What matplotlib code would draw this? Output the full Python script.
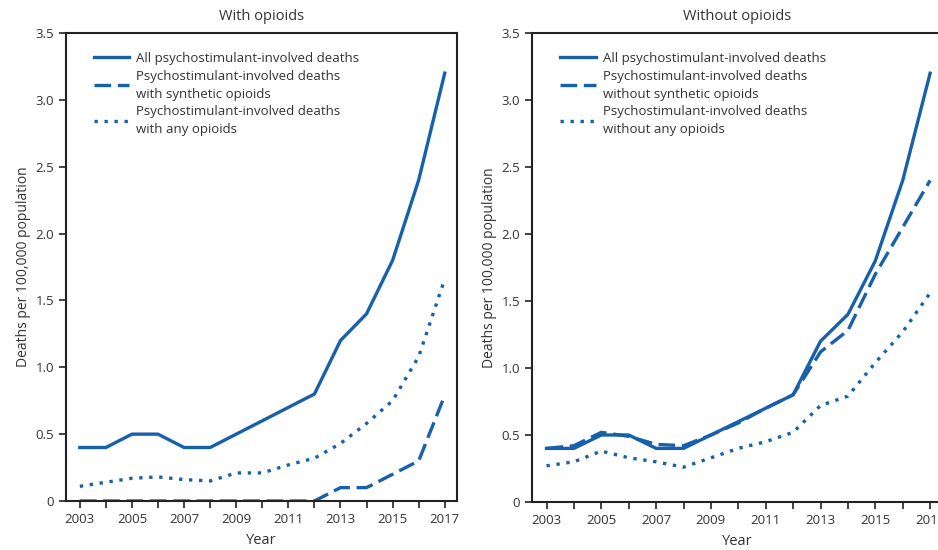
import matplotlib.pyplot as plt
from matplotlib.ticker import FuncFormatter

years = list(range(2003, 2018))

all_deaths = [0.4, 0.4, 0.5, 0.5, 0.4, 0.4, 0.5, 0.6, 0.7, 0.8, 1.2, 1.4, 1.8, 2.4, 3.2]

# With opioids
with_synthetic = [0, 0, 0, 0, 0, 0, 0, 0, 0, 0, 0.1, 0.1, 0.2, 0.3, 0.79]
with_any = [0.11, 0.14, 0.17, 0.18, 0.16, 0.15, 0.21, 0.21, 0.27, 0.32, 0.43, 0.58, 0.75, 1.08, 1.66]

# Without opioids
without_synthetic = [0.4, 0.42, 0.52, 0.49, 0.43, 0.42, 0.5, 0.59, 0.7, 0.8, 1.12, 1.28, 1.7, 2.05, 2.4]
without_any = [0.27, 0.3, 0.38, 0.33, 0.3, 0.26, 0.33, 0.4, 0.45, 0.52, 0.72, 0.79, 1.04, 1.27, 1.56]

year_ticks = list(range(2003, 2018, 2))
y_ticks = [0, 0.5, 1.0, 1.5, 2.0, 2.5, 3.0, 3.5]

blue = "#1760aa"
text_color = "#333333"
plt.rcParams["font.family"] = ["Open Sans", "DejaVu Sans"]

fig = plt.figure(figsize=(9.38, 5.5), dpi=100)
ax1 = fig.add_axes([66 / 938, 49 / 550, 391 / 938, 468 / 550])
ax2 = fig.add_axes([532 / 938, 48 / 550, 411 / 938, 469 / 550])


def style_axis(ax, title):
    ax.set_xlim(2002.47, 2017.47)
    ax.set_ylim(0, 3.5)
    ax.set_xticks(years)
    ax.set_xticklabels([str(y) if y in year_ticks else "" for y in years])
    ax.set_yticks(y_ticks)
    ax.yaxis.set_major_formatter(FuncFormatter(lambda v, p: "0" if v == 0 else f"{v:.1f}"))
    ax.tick_params(direction="out", length=5, width=1.2, colors="#222222",
                   labelcolor=text_color, labelsize=9.5)
    for s in ax.spines.values():
        s.set_linewidth(1.5)
        s.set_color("#222222")
    ax.set_title(title, fontsize=10.5, color=text_color, pad=9)
    ax.set_xlabel("Year", fontsize=10.5, color=text_color, labelpad=5)
    ax.set_ylabel("Deaths per 100,000 population", fontsize=10, color=text_color, labelpad=3)


lw = 2.4
ax1.plot(years, all_deaths, color=blue, lw=lw, label="All psychostimulant-involved deaths")
ax1.plot(years, with_synthetic, color=blue, lw=lw, dashes=(5, 2),
         label="Psychostimulant-involved deaths\nwith synthetic opioids")
ax1.plot(years, with_any, color=blue, lw=lw, dashes=(1, 2),
         label="Psychostimulant-involved deaths\nwith any opioids", clip_on=False)
style_axis(ax1, "With opioids")

ax2.plot(years, all_deaths, color=blue, lw=lw, label="All psychostimulant-involved deaths")
ax2.plot(years, without_synthetic, color=blue, lw=lw, dashes=(5, 2),
         label="Psychostimulant-involved deaths\nwithout synthetic opioids")
ax2.plot(years, without_any, color=blue, lw=lw, dashes=(1, 2),
         label="Psychostimulant-involved deaths\nwithout any opioids")
style_axis(ax2, "Without opioids")

for ax in (ax1, ax2):
    leg = ax.legend(loc="upper left", bbox_to_anchor=(0.04, 0.985), frameon=False,
                    fontsize=9.5, handlelength=2.7, handletextpad=0.5,
                    labelspacing=0.35, labelcolor=text_color)
    for t in leg.get_texts():
        t.set_linespacing(1.5)

fig.savefig("out.png", dpi=100)
